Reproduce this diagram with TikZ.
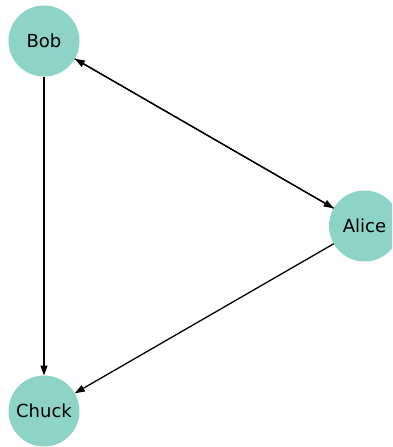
\documentclass[tikz,border=0pt]{standalone}
\usepackage{fontspec}
\setmainfont{DejaVu Sans}
\usetikzlibrary{arrows.meta}
\definecolor{nodefill}{HTML}{8DD3C7}
\begin{document}
\begin{tikzpicture}[x=1pt,y=-1pt,
  vertex/.style={circle,fill=nodefill,minimum size=71pt,inner sep=0pt,outer sep=0pt,font=\fontsize{18}{21}\selectfont},
  edge/.style={draw=black,line width=1.3pt,-{Triangle[length=10pt,width=7pt]}}]
\useasboundingbox (0,0) rectangle (392,447);
\begin{scope}
\clip (0,0) rectangle (392,447);
\node[vertex] (bob) at (44,41) {Bob};
\node[vertex] (alice) at (364.5,226) {Alice};
\node[vertex] (chuck) at (44,411) {Chuck};
\draw[edge] (bob) -- (chuck);
\draw[edge] (alice) -- (chuck);
\draw[edge] (bob) -- (alice);
\draw[edge] (alice) -- (bob);
\end{scope}
\end{tikzpicture}
\end{document}
